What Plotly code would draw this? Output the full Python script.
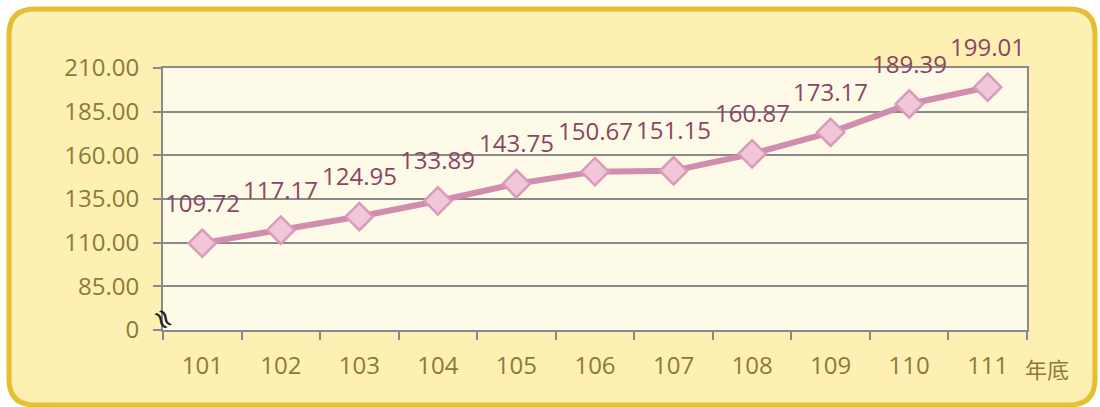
import plotly.graph_objects as go

years = ["101", "102", "103", "104", "105", "106", "107", "108", "109", "110", "111"]
values = [109.72, 117.17, 124.95, 133.89, 143.75, 150.67, 151.15, 160.87, 173.17, 189.39, 199.01]
y_tickvals = [60, 85, 110, 135, 160, 185, 210]
y_ticktext = ["0", "85.00", "110.00", "135.00", "160.00", "185.00", "210.00"]
x_unit = "年底"

W, H = 1100, 407
ML, MR, MT, MB = 163, 73, 68, 77
PW, PH = W - ML - MR, H - MT - MB

def px(x):
    return (x - ML) / PW

def py(y):
    return (H - MB - y) / PH

def rounded_path(x0, y0, x1, y1, r):
    pts = [
        f"M {px(x0 + r)} {py(y0)}",
        f"L {px(x1 - r)} {py(y0)}",
        f"Q {px(x1)} {py(y0)} {px(x1)} {py(y0 + r)}",
        f"L {px(x1)} {py(y1 - r)}",
        f"Q {px(x1)} {py(y1)} {px(x1 - r)} {py(y1)}",
        f"L {px(x0 + r)} {py(y1)}",
        f"Q {px(x0)} {py(y1)} {px(x0)} {py(y1 - r)}",
        f"L {px(x0)} {py(y0 + r)}",
        f"Q {px(x0)} {py(y0)} {px(x0 + r)} {py(y0)}",
        "Z",
    ]
    return " ".join(pts)

tick_color = "#8C7A37"
label_color = "#8A4565"
grid_color = "#8A8A8A"
font_family = "Open Sans, Noto Sans CJK TC, sans-serif"

fig = go.Figure()
fig.add_trace(go.Scatter(
    x=years, y=values, mode="lines+markers",
    line=dict(color="#D08DAD", width=6),
    marker=dict(symbol="diamond", size=21, color="#F0C6D8",
                line=dict(color="#D99BB8", width=2.5)),
    hoverinfo="x+y", showlegend=False,
))

for i, yv in enumerate(values):
    fig.add_annotation(x=i, y=yv, text=f"{yv:.2f}", showarrow=False,
                       yshift=41, font=dict(color=label_color, size=24, family=font_family))

fig.add_annotation(xref="paper", yref="paper", x=px(1047), y=py(368), text=x_unit,
                   showarrow=False, xanchor="center", yanchor="middle",
                   font=dict(color=tick_color, size=22, family="Noto Sans CJK TC, sans-serif"))

fig.add_annotation(xref="paper", yref="paper", x=px(164), y=py(318), text="≈",
                   showarrow=False, textangle=60, xanchor="center", yanchor="middle",
                   font=dict(color="#222222", size=28, family="DejaVu Sans"))

fig.add_shape(type="path", xref="paper", yref="paper",
              path=rounded_path(9, 9, 1095, 405, 26),
              fillcolor="#FEF0B2", line=dict(color="#E6BE33", width=5), layer="below")
fig.add_shape(type="rect", xref="paper", yref="paper", x0=0, y0=0, x1=1, y1=1,
              fillcolor="#FEFAE8", line=dict(width=0), layer="below")

fig.update_layout(
    width=W, height=H,
    margin=dict(l=ML, r=MR, t=MT, b=MB),
    paper_bgcolor="white",
    plot_bgcolor="rgba(0,0,0,0)",
    font=dict(family=font_family, color=tick_color, size=24),
    xaxis=dict(type="category", range=[-0.5, 10.5], showgrid=False,
               showline=True, mirror=True, linecolor=grid_color, linewidth=2,
               ticks="outside", tickson="boundaries", ticklen=8, tickwidth=2,
               tickcolor=grid_color, tickfont=dict(size=24, color=tick_color),
               ticklabelstandoff=13, zeroline=False),
    yaxis=dict(range=[60, 210], tickvals=y_tickvals, ticktext=y_ticktext,
               showgrid=True, gridcolor=grid_color, gridwidth=2,
               showline=True, mirror=True, linecolor=grid_color, linewidth=2,
               ticks="outside", ticklen=8, tickwidth=2, tickcolor=grid_color,
               tickfont=dict(size=24, color=tick_color), ticklabelstandoff=9,
               zeroline=False),
)

fig.write_html("out.html", config={"displayModeBar": False},
               post_script="document.body.style.margin='0px';")
